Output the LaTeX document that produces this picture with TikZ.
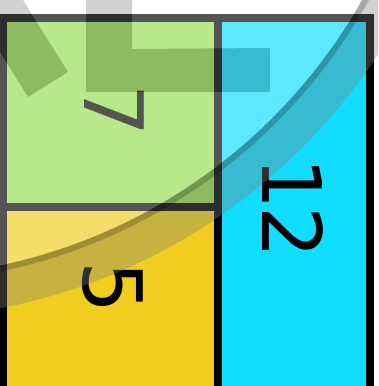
\documentclass[tikz,border=0pt]{standalone}
\usepackage{fontspec}
\setmainfont{DejaVu Sans}
\definecolor{boxgreen}{HTML}{95DD50}
\definecolor{boxyellow}{HTML}{F0CD1E}
\definecolor{boxcyan}{HTML}{10DDFF}
\definecolor{wmgray}{HTML}{808080}
\begin{document}
\begin{tikzpicture}[x=1pt,y=-1pt,
  box/.style={draw=black, line width=8pt, rectangle, inner sep=0pt, outer sep=0pt},
  num/.style={font=\fontsize{82}{82}\selectfont, text=black, rotate=-90, inner sep=0pt},
  wm/.style={fill=wmgray, fill opacity=0.36},
  wmlight/.style={fill=white, fill opacity=0.33, even odd rule}]
\clip (0,0) rectangle (378,386);
\fill[white] (0,0) rectangle (378,386);
% boxes
\node[box, fill=boxgreen, minimum width=215pt, minimum height=189pt] (g) at (110.5,112.5) {};
\node[box, fill=boxyellow, minimum width=215pt, minimum height=213pt] (y) at (110.5,313.5) {};
\node[box, fill=boxcyan, minimum width=151.5pt, minimum height=402pt] (c) at (293.75,219) {};
% numbers
\node[num] (t7) at (114,111) {7};
\node[num] (t12) at (293,208) {1\kern-3pt 2};
\node[num] (t5) at (113,287.5) {5};
% watermark
\coordinate (wc) at (-112,-267);
\fill[wmlight] (wc) circle[radius=544pt]
  (86,-5) -- (132,-5) -- (132,49) -- (270,48) -- (270,92) -- (86,92) -- cycle
  (28,97) -- (68,72) -- (-22,-72) -- (-62,-47) -- cycle;
\fill[wm, even odd rule] (wc) circle[radius=586pt] (wc) circle[radius=544pt];
\fill[black, fill opacity=0.2, even odd rule] (wc) circle[radius=550pt] (wc) circle[radius=544pt];
\fill[wm] (86,-5) -- (132,-5) -- (132,49) -- (270,48) -- (270,92) -- (86,92) -- cycle;
\fill[wm] (28,97) -- (68,72) -- (-22,-72) -- (-62,-47) -- cycle;
\end{tikzpicture}
\end{document}
